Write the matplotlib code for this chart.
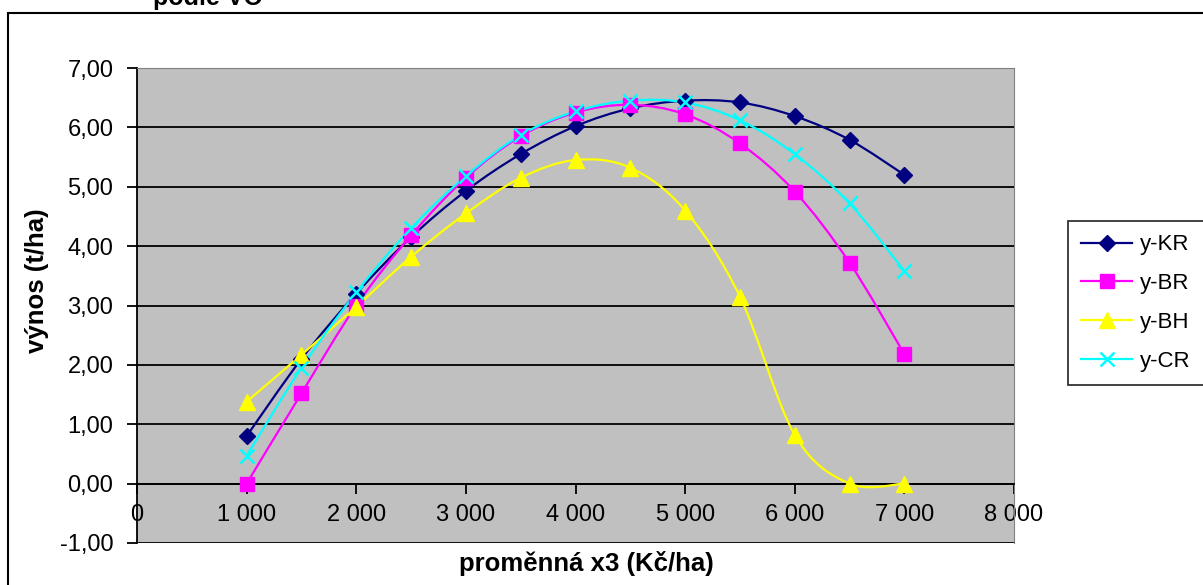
import numpy as np
import matplotlib
matplotlib.use("Agg")
import matplotlib.pyplot as plt
from matplotlib.path import Path
from matplotlib.patches import PathPatch, Rectangle
from matplotlib.lines import Line2D
from matplotlib.ticker import FuncFormatter

plt.rcParams['font.family'] = ['Liberation Sans', 'DejaVu Sans']

x_vals = [1000, 1500, 2000, 2500, 3000, 3500, 4000, 4500, 5000, 5500, 6000, 6500, 7000]
y_KR = [0.80, 2.10, 3.20, 4.15, 4.93, 5.55, 6.02, 6.32, 6.45, 6.42, 6.19, 5.79, 5.20]
y_BR = [0.00, 1.52, 3.00, 4.18, 5.15, 5.85, 6.25, 6.38, 6.22, 5.73, 4.92, 3.72, 2.18]
y_BH = [1.38, 2.17, 2.98, 3.82, 4.55, 5.15, 5.45, 5.32, 4.60, 3.15, 0.82, 0.00, 0.00]
y_CR = [0.47, 1.95, 3.22, 4.30, 5.18, 5.87, 6.27, 6.45, 6.42, 6.12, 5.55, 4.72, 3.58]

series_names = ['y-KR', 'y-BR', 'y-BH', 'y-CR']
series_vals = [y_KR, y_BR, y_BH, y_CR]
colors = ['#000080', '#FF00FF', '#FFFF00', '#00FFFF']
markers = ['D', 's', '^', 'x']
msizes = [8.5, 10.5, 12, 9.5]

title_text = 'podle VO'
xlabel_text = 'proměnná x3 (Kč/ha)'
ylabel_text = 'výnos (t/ha)'

W, H = 1203, 585
fig = plt.figure(figsize=(W / 100, H / 100), dpi=100)
fig.patch.set_facecolor('white')

# chart-area border
fig.patches.append(Rectangle((8 / W, -0.05), 1.1, 1 - 13 / H + 0.05, transform=fig.transFigure,
                             fill=False, edgecolor='black', linewidth=1.5, zorder=0))

ax = fig.add_axes([137 / W, (H - 543) / H, 877 / W, 475 / H])
ax.set_facecolor('#C0C0C0')
ax.set_xlim(0, 8000)
ax.set_ylim(-1, 7)
ax.set_xticks(np.arange(0, 8001, 1000))
ax.set_yticks(np.arange(-1, 7.01, 1))

ax.yaxis.set_major_formatter(FuncFormatter(lambda v, p: f'{v:.2f}'.replace('.', ',')))
ax.xaxis.set_major_formatter(FuncFormatter(lambda v, p: f'{int(v):,}'.replace(',', ' ')))

for yv in range(-1, 8):
    ax.axhline(yv, color='black', linewidth=1.3, zorder=1)

ax.spines['bottom'].set_position(('data', 0))
ax.spines['bottom'].set_linewidth(1.3)
ax.spines['left'].set_linewidth(1.3)
ax.spines['top'].set_color('#808080')
ax.spines['right'].set_color('#808080')
ax.tick_params(axis='both', direction='out', length=7, width=1.3, labelsize=17, colors='black')
ax.tick_params(axis='y', pad=10)
ax.tick_params(axis='x', pad=8)


def smooth_path(xs, ys):
    pts = np.column_stack([xs, ys]).astype(float)
    n = len(pts)
    verts = [pts[0]]
    codes = [Path.MOVETO]
    for i in range(n - 1):
        p0 = pts[i - 1] if i > 0 else pts[i]
        p1 = pts[i]
        p2 = pts[i + 1]
        p3 = pts[i + 2] if i + 2 < n else pts[i + 1]
        c1 = p1 + (p2 - p0) / 6.0
        c2 = p2 - (p3 - p1) / 6.0
        verts += [c1, c2, p2]
        codes += [Path.CURVE4] * 3
    return Path(verts, codes)


handles = []
for name, ys, c, m, ms in zip(series_names, series_vals, colors, markers, msizes):
    patch = PathPatch(smooth_path(x_vals, ys), facecolor='none', edgecolor=c,
                      linewidth=1.6, zorder=3, clip_on=False)
    ax.add_patch(patch)
    if m == 'x':
        ax.plot(x_vals, ys, linestyle='none', marker=m, markersize=ms, markeredgewidth=1.8,
                color=c, zorder=4, clip_on=False)
    else:
        ax.plot(x_vals, ys, linestyle='none', marker=m, markersize=ms, markerfacecolor=c,
                markeredgecolor=c, zorder=4, clip_on=False)
    handles.append(Line2D([0], [0], color=c, linewidth=1.6, marker=m, markersize=ms,
                          markeredgewidth=1.8 if m == 'x' else 1.0,
                          markerfacecolor=c, markeredgecolor=c))

fig.text(586 / W, 1 - 563 / H, xlabel_text, fontsize=18.5, fontweight='bold',
         ha='center', va='center')
fig.text(37 / W, 1 - 281 / H, ylabel_text, fontsize=18.5, fontweight='bold',
         ha='center', va='center', rotation=90)

fig.text(208 / W, 1 - 5 / H, title_text, fontsize=18, fontweight='bold', ha='center', va='baseline')

leg = fig.legend(handles, series_names, loc='upper left',
                 bbox_to_anchor=(1068 / W, 1 - 221 / H), bbox_transform=fig.transFigure,
                 frameon=True, fancybox=False, edgecolor='black', fontsize=16,
                 handlelength=2.3, labelspacing=0.8, borderpad=0.6, handletextpad=0.35,
                 borderaxespad=0)
leg.get_frame().set_linewidth(1.3)

fig.savefig('out.png', dpi=100)
